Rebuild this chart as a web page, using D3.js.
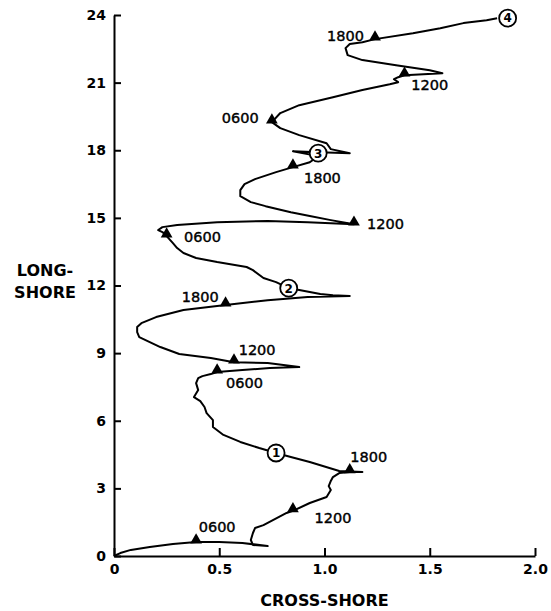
<!DOCTYPE html>
<html>
<head>
<meta charset="utf-8">
<script src="https://cdn.jsdelivr.net/npm/d3@7"></script>
<style>
  body { margin: 0; background: #fff; }
  svg { display: block; }
  text { font-family: "DejaVu Sans", sans-serif; fill: #000; }
</style>
</head>
<body>
<div id="chart"></div>
<script>
// drift track, cross-shore vs long-shore
const crossShore = [0.00, 0.03, 0.08, 0.17, 0.28, 0.39, 0.50, 0.61, 0.73, 0.66,
  0.65, 0.66, 0.67, 0.71, 0.82, 0.85, 0.93, 1.01, 1.03, 1.02,
  1.03, 1.04, 1.07, 1.12, 1.18, 1.07, 0.93, 0.84, 0.77, 0.69,
  0.60, 0.52, 0.47, 0.47, 0.44, 0.43, 0.41, 0.38, 0.40, 0.39,
  0.40, 0.42, 0.46, 0.49, 0.61, 0.74, 0.88, 0.73, 0.57, 0.46,
  0.31, 0.22, 0.12, 0.11, 0.11, 0.13, 0.20, 0.33, 0.53, 0.73,
  0.92, 1.12, 1.04, 0.98, 0.88, 0.83, 0.77, 0.71, 0.66, 0.63,
  0.49, 0.39, 0.33, 0.30, 0.28, 0.25, 0.23, 0.21, 0.23, 0.30,
  0.49, 0.73, 0.92, 1.14, 1.03, 0.93, 0.84, 0.72, 0.65, 0.60,
  0.60, 0.62, 0.67, 0.77, 0.85, 0.93, 0.97, 0.85, 0.94, 1.12,
  1.03, 1.01, 0.88, 0.79, 0.75, 0.79, 0.88, 1.04, 1.18, 1.31,
  1.35, 1.33, 1.35, 1.38, 1.56, 1.50, 1.34, 1.18, 1.11, 1.10,
  1.12, 1.18, 1.24, 1.42, 1.55, 1.66, 1.77, 1.82];
const longShore = [0.00, 0.13, 0.27, 0.40, 0.53, 0.62, 0.62, 0.58, 0.44, 0.49,
  0.71, 1.02, 1.24, 1.37, 1.91, 2.00, 2.35, 2.62, 2.93, 3.10,
  3.33, 3.50, 3.68, 3.73, 3.73, 3.77, 4.17, 4.39, 4.57, 4.79,
  5.06, 5.37, 5.72, 6.03, 6.34, 6.61, 6.87, 7.05, 7.36, 7.67,
  7.89, 7.98, 8.07, 8.16, 8.25, 8.34, 8.38, 8.56, 8.60, 8.78,
  8.96, 9.27, 9.71, 9.93, 10.16, 10.33, 10.60, 10.91, 11.13, 11.35,
  11.49, 11.53, 11.57, 11.62, 11.80, 11.88, 12.15, 12.33, 12.68, 12.82,
  13.04, 13.22, 13.44, 13.66, 13.88, 14.19, 14.37, 14.46, 14.59, 14.68,
  14.81, 14.86, 14.81, 14.72, 14.90, 15.08, 15.25, 15.52, 15.70, 15.96,
  16.23, 16.50, 16.72, 17.03, 17.25, 17.47, 17.74, 17.96, 17.92, 17.87,
  18.05, 18.31, 18.67, 18.98, 19.25, 19.65, 20.00, 20.35, 20.67, 20.93,
  21.02, 21.15, 21.24, 21.33, 21.42, 21.55, 21.77, 22.00, 22.22, 22.53,
  22.71, 22.79, 22.93, 23.19, 23.41, 23.64, 23.77, 23.86];

// time marks along the track
const markTimes = ["0600", "1200", "1800", "0600", "1200", "1800",
  "0600", "1200", "1800", "0600", "1200", "1800"];
const markX = [0.39, 0.85, 1.12, 0.49, 0.57, 0.53, 0.25, 1.14, 0.85, 0.75, 1.38, 1.24];
const markY = [0.62, 2.00, 3.73, 8.16, 8.60, 11.13, 14.19, 14.72, 17.25, 19.25, 21.33, 22.93];
// where each time label sits (data units)
const labelX = [0.49, 1.04, 1.21, 0.62, 0.68, 0.41, 0.42, 1.29, 0.99, 0.60, 1.50, 1.10];
const labelY = [1.29, 1.69, 4.39, 7.67, 9.14, 11.49, 14.15, 14.72, 16.76, 19.42, 20.89, 23.10];

// day numbers (circled)
const dayNums = ["1", "2", "3", "4"];
const dayX = [0.77, 0.83, 0.97, 1.87];
const dayY = [4.57, 11.88, 17.87, 23.86];

const xTicks = [0, 0.5, 1.0, 1.5, 2.0];
const xTickLabels = ["0", "0.5", "1.0", "1.5", "2.0"];
const yTicks = [0, 3, 6, 9, 12, 15, 18, 21, 24];

const width = 551, height = 611;
const margin = {top: 15, right: 16, bottom: 55, left: 114};

const svg = d3.select("#chart").append("svg")
  .attr("width", width)
  .attr("height", height);

const x = d3.scaleLinear().domain([0, 2]).range([margin.left, width - margin.right]);
const y = d3.scaleLinear().domain([0, 24]).range([height - margin.bottom, margin.top]);

// axes
const xAxis = d3.axisBottom(x)
  .tickValues(xTicks)
  .tickFormat((d, i) => xTickLabels[i])
  .tickSizeInner(-8)
  .tickSizeOuter(0)
  .tickPadding(8);
const yAxis = d3.axisLeft(y)
  .tickValues(yTicks)
  .tickSizeInner(-7)
  .tickSizeOuter(0)
  .tickPadding(8);

const gx = svg.append("g")
  .attr("transform", `translate(0,${y(0)})`)
  .call(xAxis);
const gy = svg.append("g")
  .attr("transform", `translate(${x(0)},0)`)
  .call(yAxis);

[gx, gy].forEach(g => {
  g.select(".domain").attr("stroke", "#000").attr("stroke-width", 2);
  g.selectAll(".tick line").attr("stroke", "#000").attr("stroke-width", 2);
  g.selectAll(".tick text")
    .attr("font-family", "DejaVu Sans, sans-serif")
    .attr("font-size", 14)
    .attr("font-weight", "bold")
    .attr("fill", "#000");
});

// axis titles
svg.append("text")
  .attr("x", (x(0) + x(2)) / 2)
  .attr("y", 606)
  .attr("text-anchor", "middle")
  .attr("font-size", 16)
  .attr("font-weight", "bold")
  .text("CROSS-SHORE");

const yTitle = svg.append("text")
  .attr("x", 45)
  .attr("y", 276)
  .attr("text-anchor", "middle")
  .attr("font-size", 16)
  .attr("font-weight", "bold");
yTitle.append("tspan").attr("x", 45).text("LONG-");
yTitle.append("tspan").attr("x", 45).attr("dy", 22).text("SHORE");

// the track
const track = d3.zip(crossShore, longShore);
const line = d3.line()
  .x(d => x(d[0]))
  .y(d => y(d[1]));

svg.append("path")
  .datum(track)
  .attr("d", line)
  .attr("fill", "none")
  .attr("stroke", "#000")
  .attr("stroke-width", 2)
  .attr("stroke-linejoin", "round");

// triangles at the time marks
const tri = d3.symbol().type(d3.symbolTriangle).size(60);
svg.append("g")
  .selectAll("path")
  .data(markTimes)
  .join("path")
  .attr("d", tri)
  .attr("transform", (d, i) => `translate(${x(markX[i])},${y(markY[i]) - 2})`)
  .attr("fill", "#000");

svg.append("g")
  .selectAll("text")
  .data(markTimes)
  .join("text")
  .attr("x", (d, i) => x(labelX[i]))
  .attr("y", (d, i) => y(labelY[i]))
  .attr("dy", "0.36em")
  .attr("text-anchor", "middle")
  .attr("font-size", 14.5)
  .attr("stroke", "#000")
  .attr("stroke-width", 0.4)
  .text(d => d);

// circled day numbers
const days = svg.append("g")
  .selectAll("g")
  .data(dayNums)
  .join("g")
  .attr("transform", (d, i) => `translate(${x(dayX[i])},${y(dayY[i])})`);
days.append("circle")
  .attr("r", 8.5)
  .attr("fill", "#fff")
  .attr("stroke", "#000")
  .attr("stroke-width", 1.8);
days.append("text")
  .attr("text-anchor", "middle")
  .attr("dy", "0.36em")
  .attr("font-size", 12)
  .attr("font-weight", "bold")
  .text(d => d);
</script>
</body>
</html>
